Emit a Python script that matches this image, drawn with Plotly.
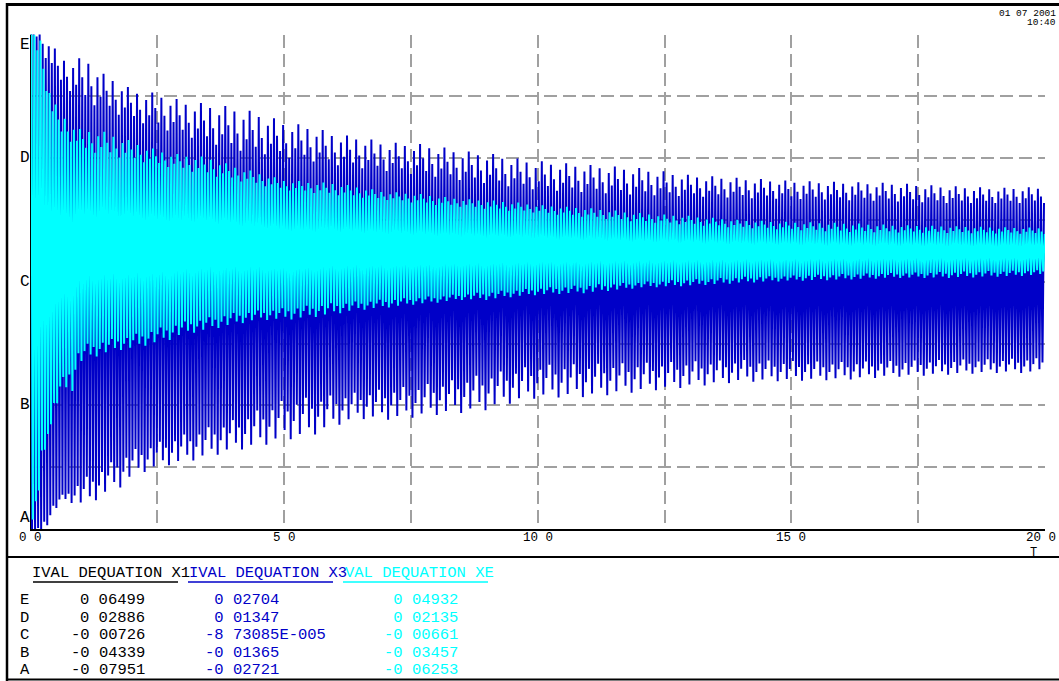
import numpy as np
import plotly.graph_objects as go

# ---------------- data ----------------
T_KNOTS = [0, 0.2, 0.4, 0.6, 0.8, 1.0, 1.2, 1.4, 1.6, 1.8, 2.0, 2.25, 2.5, 2.75, 3.0,
           3.5, 4.0, 4.5, 5.0, 5.5, 6.0, 6.5, 7.0, 7.5, 8.0, 8.5, 9.0, 9.5, 10,
           11, 12, 13, 14, 15, 16, 17, 18, 19, 20]

# VAL DEQUATION X3 (dark blue): outer envelope of the oscillation peaks
X3_UPPER = [0.02809, 0.02755, 0.02612, 0.02458, 0.02425, 0.02447, 0.02425, 0.02283, 0.02239, 0.02173,
            0.02096, 0.02074, 0.02063, 0.02019, 0.01975, 0.01943, 0.01910, 0.01844, 0.01745, 0.01701,
            0.01613, 0.01580, 0.01515, 0.01515, 0.01482, 0.01427, 0.01405, 0.01350, 0.01317,
            0.01273, 0.01240, 0.01163, 0.01131, 0.01098, 0.01087, 0.01076, 0.01043, 0.01021, 0.01032]
X3_LOWER = [-0.02842, -0.02787, -0.02622, -0.02403, -0.02436, -0.02458, -0.02436, -0.02370, -0.02293, -0.02260,
            -0.02150, -0.02096, -0.02052, -0.02019, -0.01997, -0.01931, -0.01865, -0.01821, -0.01744, -0.01711,
            -0.01591, -0.01514, -0.01525, -0.01503, -0.01470, -0.01448, -0.01415, -0.01338, -0.01284,
            -0.01273, -0.01218, -0.01163, -0.01108, -0.01097, -0.01086, -0.01053, -0.01031, -0.01009, -0.01009]

# VAL DEQUATION XE (cyan): outer envelope
XE_UPPER = [0.05149, 0.04855, 0.03520, 0.03158, 0.02932, 0.02774, 0.02774, 0.02751, 0.02683, 0.02593,
            0.02525, 0.02412, 0.02321, 0.02253, 0.02208, 0.02163, 0.01959, 0.01801, 0.01642, 0.01597,
            0.01575, 0.01484, 0.01371, 0.01348, 0.01280, 0.01213, 0.01190, 0.01145, 0.01077,
            0.01009, 0.00896, 0.00828, 0.00738, 0.00692, 0.00670, 0.00624, 0.00602, 0.00579, 0.00557]
XE_LOWER = [-0.06502, -0.04353, -0.04013, -0.03108, -0.03222, -0.02498, -0.02384, -0.02317, -0.02249, -0.02203,
            -0.02181, -0.02113, -0.02045, -0.01977, -0.01864, -0.01751, -0.01638, -0.01525, -0.01525, -0.01480,
            -0.01389, -0.01299, -0.01253, -0.01185, -0.01140, -0.01072, -0.01072, -0.01004, -0.00959,
            -0.00914, -0.00801, -0.00756, -0.00688, -0.00643, -0.00620, -0.00575, -0.00575, -0.00552, -0.00507]

# inner envelopes: lowest turning points of the peaks (edge of the solid band)
INNER_KNOTS = [0, 0.5, 1, 2, 3, 4, 5, 6, 8, 10, 12, 14, 16, 18, 20]
X3_UPPER_INNER = [0.02809, 0.02206, 0.01986, 0.01767, 0.01602, 0.01438, 0.01361, 0.01273,
                  0.01141, 0.00999, 0.00944, 0.00911, 0.00889, 0.00856, 0.00856]
X3_LOWER_INNER = [-0.02842, -0.02403, -0.02183, -0.01854, -0.01690, -0.01525, -0.01305, -0.01251,
                  -0.01119, -0.00921, -0.00899, -0.00867, -0.00889, -0.00867, -0.00845]
XE_UPPER_INNER = [0.05149, 0.02774, 0.02321, 0.02095, 0.01869, 0.01642, 0.01416, 0.01303,
                  0.01077, 0.00896, 0.00692, 0.00557, 0.00466, 0.00443, 0.00421]
XE_LOWER_INNER = [-0.06502, -0.03108, -0.02090, -0.01864, -0.01570, -0.01366, -0.01253, -0.01140,
                  -0.00982, -0.00801, -0.00665, -0.00552, -0.00484, -0.00439, -0.00394]

# VAL DEQUATION X1 (black, mostly hidden behind the others)
X1_KNOTS = [0, 0.3, 1, 3, 6, 10, 15, 20]
X1_UPPER = [0.06779, 0.03126, 0.02249, 0.01665, 0.01226, 0.00788, 0.00554, 0.00496]
X1_LOWER = [-0.07103, -0.03596, -0.02719, -0.02135, -0.01550, -0.00966, -0.00527, -0.00323]

HALF_PERIOD = 0.03   # seconds between successive peak and trough
# how far (inner -> outer envelope) successive peaks reach
SPIKE_PATTERN = [1.0, 0.55, 0.15, 0.9, 0.4, 0.0, 0.75, 0.3]

# Axis level values (E, D, C, B, A) for each series
LEVEL_NAMES = ["E", "D", "C", "B", "A"]
X1_LEVELS = [0.06499, 0.02886, -0.00726, -0.04339, -0.07951]
X3_LEVELS = [0.02704, 0.01347, -8.73085e-05, -0.01365, -0.02721]
XE_LEVELS = [0.04932, 0.02135, -0.00661, -0.03457, -0.06253]

SERIES_NAMES = ["IVAL DEQUATION X1", "IVAL DEQUATION X3", "VAL DEQUATION XE"]

X_GRID = [0, 2.5, 5, 7.5, 10, 12.5, 15, 17.5, 20]
X_TICKS = [0, 5, 10, 15, 20]
X_TICK_TEXT = ["0 0", "5 0", "10 0", "15 0", "20 0"]
X_TITLE = "T"
DATE_TEXT = ["01 07 2001", "10:40"]

# ---------------- styling ----------------
W, H = 1059, 681
BLACK = "#000000"
BLUE = "rgb(0,0,200)"
CYAN = "rgb(0,255,255)"
GRID = "rgb(160,160,160)"
FONT = "Liberation Mono"


def px(x):
    return x / W


def py(y):
    return 1 - y / H


def zigzag(knots, upper, lower, half, phase, iknots=None, upper_in=None, lower_in=None):
    t = np.arange(phase, 20 + 1e-9, half)
    up = np.interp(t, knots, upper)
    lo = np.interp(t, knots, lower)
    if iknots is not None:
        up_i = np.interp(t, iknots, upper_in)
        lo_i = np.interp(t, iknots, lower_in)
        cyc = np.arange(len(t)) // 2
        pat = np.array(SPIKE_PATTERN)
        n = len(pat)
        f_up = pat[cyc % n]
        f_lo = pat[(cyc + 3) % n]
        up = up_i + f_up * (up - up_i)
        lo = lo_i + f_lo * (lo - lo_i)
    y = np.where(np.arange(len(t)) % 2 == 0, up, lo)
    return t, y


fig = go.Figure()

t1, y1 = zigzag(X1_KNOTS, X1_UPPER, X1_LOWER, HALF_PERIOD, 0.01)
fig.add_trace(go.Scatter(x=t1, y=y1, mode="lines", line=dict(color=BLACK, width=1.5, simplify=False),
                         yaxis="y", name=SERIES_NAMES[0], showlegend=False, hoverinfo="skip"))
t3, y3 = zigzag(T_KNOTS, X3_UPPER, X3_LOWER, HALF_PERIOD, 0.0,
                INNER_KNOTS, X3_UPPER_INNER, X3_LOWER_INNER)
fig.add_trace(go.Scatter(x=t3, y=y3, mode="lines", line=dict(color=BLUE, width=2, simplify=False),
                         yaxis="y2", name=SERIES_NAMES[1], showlegend=False, hoverinfo="skip"))
te, ye = zigzag(T_KNOTS, XE_UPPER, XE_LOWER, HALF_PERIOD, 0.015,
                INNER_KNOTS, XE_UPPER_INNER, XE_LOWER_INNER)
fig.add_trace(go.Scatter(x=te, y=ye, mode="lines", line=dict(color=CYAN, width=2, simplify=False),
                         yaxis="y3", name=SERIES_NAMES[2], showlegend=False, hoverinfo="skip"))

x_dom = [px(30.5), px(1045)]
y_dom = [py(529), py(34.5)]

fig.update_layout(
    width=W, height=H, autosize=False,
    margin=dict(l=0, r=0, t=0, b=0, pad=0),
    paper_bgcolor="white", plot_bgcolor="white",
    showlegend=False,
    xaxis=dict(domain=x_dom, range=[0, 20], tickvals=X_GRID, showticklabels=False,
               showgrid=True, gridcolor=GRID, gridwidth=1.6, griddash="13px,6px",
               showline=True, linecolor=BLACK, linewidth=2, ticks="", zeroline=False,
               automargin=False),
    yaxis=dict(domain=y_dom, range=[X1_LEVELS[-1], X1_LEVELS[0]],
               tickvals=list(np.linspace(X1_LEVELS[-1], X1_LEVELS[0], 9)),
               showticklabels=False, showgrid=True, gridcolor=GRID, gridwidth=1.6,
               griddash="13px,6px", zeroline=False, showline=True, linecolor=BLACK,
               linewidth=1, ticks="", automargin=False),
    yaxis2=dict(domain=y_dom, range=[X3_LEVELS[-1], X3_LEVELS[0]], overlaying="y",
                visible=False, showgrid=False, zeroline=False, automargin=False),
    yaxis3=dict(domain=y_dom, range=[XE_LEVELS[-1], XE_LEVELS[0]], overlaying="y",
                visible=False, showgrid=False, zeroline=False, automargin=False),
)

ann = []
# x tick labels (placed on the x data scale)
for i, (xv, s) in enumerate(zip(X_TICKS, X_TICK_TEXT)):
    last = i == len(X_TICKS) - 1
    ann.append(dict(text=s, x=xv, xref="x", y=py(537.5), yref="paper",
                    xanchor="right" if last else "center", xshift=13 if last else 0,
                    yanchor="middle", showarrow=False,
                    font=dict(family=FONT, size=12.5, color=BLACK)))

# Level letters on the left of the plot
for i, (name, lv) in enumerate(zip(LEVEL_NAMES, X1_LEVELS)):
    ya = "top" if i == 0 else ("bottom" if i == len(LEVEL_NAMES) - 1 else "middle")
    ann.append(dict(text=name, x=px(18), xref="paper", y=lv, yref="y", xanchor="left",
                    yanchor=ya, showarrow=False, font=dict(family=FONT, size=16, color=BLACK)))

# x axis title
ann.append(dict(text=X_TITLE, x=px(1033), xref="paper", y=py(553), yref="paper",
                xanchor="center", yanchor="middle", showarrow=False,
                font=dict(family=FONT, size=12, color=BLACK)))

# date / time
for i, s in enumerate(DATE_TEXT):
    ann.append(dict(text=s, x=px(1058), xref="paper", y=py(13.5 + 9 * i), yref="paper",
                    xanchor="right", yanchor="middle", showarrow=False,
                    font=dict(family=FONT, size=9.5, color=BLACK)))

# legend table
colors = [BLACK, BLUE, CYAN]
head_x = [30, 187, 343]
head_w = [(33, 178), (188, 333), (343, 488)]
for name, c, hx in zip(SERIES_NAMES, colors, head_x):
    ann.append(dict(text=name, x=px(hx), xref="paper", y=py(572.5), yref="paper",
                    xanchor="left", yanchor="middle", showarrow=False,
                    font=dict(family=FONT, size=15.5, color=c)))


def fmt(v):
    if v != 0 and abs(v) < 1e-3:
        m, e = f"{v:.5E}".split("E")
        s = f"{m}E{e[0]}{int(e[1:]):03d}"
    else:
        s = f"{v:.5f}"
    return s.replace(".", " ")


def signed(s):
    return s if s.startswith("-") else "&nbsp;" + s


row_y = [600, 617.5, 635, 652.5, 670]
for i, name in enumerate(LEVEL_NAMES):
    yy = py(row_y[i])
    f = dict(family=FONT, size=15.5)
    ann.append(dict(text=name, x=px(18), xref="paper", y=yy, yref="paper", xanchor="left",
                    yanchor="middle", showarrow=False, font=dict(f, color=BLACK)))
    ann.append(dict(text=fmt(X1_LEVELS[i]), x=px(147), xref="paper", y=yy, yref="paper",
                    xanchor="right", yanchor="middle", showarrow=False, font=dict(f, color=BLACK)))
    ann.append(dict(text=signed(fmt(X3_LEVELS[i])), x=px(203), xref="paper", y=yy, yref="paper",
                    xanchor="left", yanchor="middle", showarrow=False, font=dict(f, color=BLUE)))
    ann.append(dict(text=signed(fmt(XE_LEVELS[i])), x=px(382), xref="paper", y=yy, yref="paper",
                    xanchor="left", yanchor="middle", showarrow=False, font=dict(f, color=CYAN)))

fig.update_layout(annotations=ann)

shapes = []
# frame
shapes.append(dict(type="line", xref="paper", yref="paper", x0=px(6), x1=1, y0=py(4.5), y1=py(4.5),
                   line=dict(color=BLACK, width=3)))
shapes.append(dict(type="line", xref="paper", yref="paper", x0=px(7), x1=px(7), y0=py(3), y1=0,
                   line=dict(color=BLACK, width=2.5)))
shapes.append(dict(type="line", xref="paper", yref="paper", x0=px(6), x1=1, y0=py(557), y1=py(557),
                   line=dict(color=BLACK, width=2)))
shapes.append(dict(type="line", xref="paper", yref="paper", x0=px(6), x1=1, y0=py(679.5), y1=py(679.5),
                   line=dict(color=BLACK, width=2)))
# header underlines
for (a, b), c in zip(head_w, colors):
    shapes.append(dict(type="line", xref="paper", yref="paper", x0=px(a), x1=px(b),
                       y0=py(582), y1=py(582), line=dict(color=c, width=1.6)))
fig.update_layout(shapes=shapes)

fig.write_html("out.html", config={"responsive": False, "displayModeBar": False},
               post_script="document.body.style.margin='0';document.body.style.overflow='hidden';")
